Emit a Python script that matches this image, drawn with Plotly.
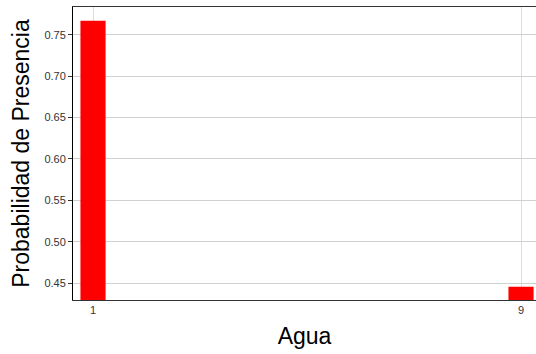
import plotly.graph_objects as go

categories = [1, 9]
values = [0.767, 0.4455]
y_ticks = [0.45, 0.50, 0.55, 0.60, 0.65, 0.70, 0.75]

fig = go.Figure(go.Bar(x=categories, y=values, width=0.47,
                       marker=dict(color="#ff0000", line=dict(width=0))))

fig.update_layout(
    width=536, height=354,
    margin=dict(l=73, r=0, t=7, b=54),
    plot_bgcolor="white", paper_bgcolor="white",
    font=dict(family="Liberation Sans, Arial, sans-serif", color="#333333"),
    showlegend=False,
)
fig.update_xaxes(
    range=[0.626, 9.28], tickvals=categories, ticktext=[str(c) for c in categories],
    showgrid=True, gridcolor="#dddddd", gridwidth=1,
    showline=True, linecolor="#333333", linewidth=1, mirror=True,
    ticks="", tickfont=dict(size=11, color="#333333"),
    title=dict(text="Agua", font=dict(size=23, color="#000000"), standoff=12),
    zeroline=False,
)
fig.update_yaxes(
    range=[0.4295, 0.7837], tickvals=y_ticks, ticktext=["%.2f" % v for v in y_ticks],
    showgrid=True, gridcolor="#d0d0d0", gridwidth=1,
    showline=True, linecolor="#000000", linewidth=1,
    ticks="outside", ticklen=4, tickcolor="#333333",
    tickfont=dict(size=11, color="#333333"),
    title=dict(text="Probabilidad de Presencia", font=dict(size=23, color="#000000"), standoff=8),
    zeroline=False,
)
fig.write_html("out.html")
